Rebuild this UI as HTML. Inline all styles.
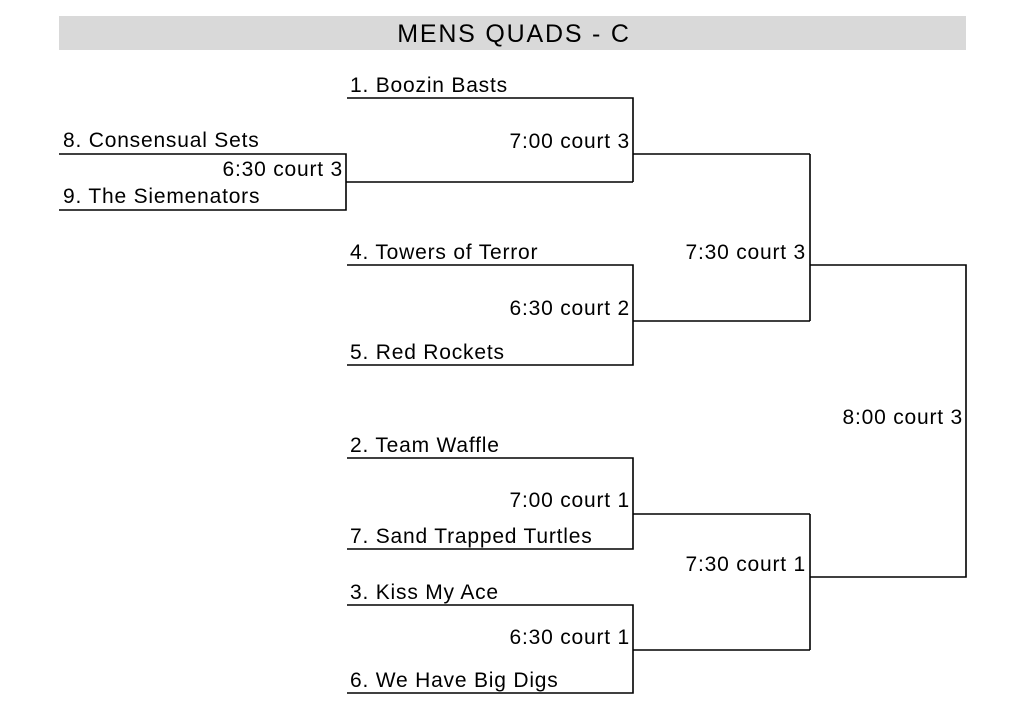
<!DOCTYPE html>
<html><head><meta charset="utf-8"><style>
html,body{margin:0;padding:0;background:#fff;}
svg{display:block}
text{font-family:"Liberation Sans",Arial,sans-serif;font-size:21px;letter-spacing:0.8px;fill:#000}
</style></head><body>
<svg width="1024" height="704" viewBox="0 0 1024 704" xmlns="http://www.w3.org/2000/svg">
<rect x="59" y="16" width="907" height="34" fill="#d9d9d9"/>
<text x="514" y="42" text-anchor="middle" style="font-size:25px;letter-spacing:1.8px">MENS QUADS - C</text>
<g stroke="#000" stroke-width="1.6" fill="none">
<polyline points="59,154 346,154 346,210 59,210"/>
<line x1="346" y1="182" x2="633" y2="182"/>
<polyline points="347,98 633,98 633,182"/>
<line x1="633" y1="154" x2="810" y2="154"/>
<polyline points="347,265 633,265 633,365 347,365"/>
<line x1="633" y1="321" x2="810" y2="321"/>
<line x1="810" y1="154" x2="810" y2="321"/>
<polyline points="810,265 966,265 966,577 810,577"/>
<polyline points="347,458 633,458 633,549 347,549"/>
<line x1="633" y1="514" x2="810" y2="514"/>
<polyline points="347,605 633,605 633,693 347,693"/>
<line x1="633" y1="650" x2="810" y2="650"/>
<line x1="810" y1="514" x2="810" y2="650"/>
</g>
<text x="63" y="147">8. Consensual Sets</text>
<text x="63" y="203">9. The Siemenators</text>
<text x="343" y="176" text-anchor="end">6:30 court 3</text>
<text x="350" y="92">1. Boozin Basts</text>
<text x="630" y="148" text-anchor="end">7:00 court 3</text>
<text x="350" y="259">4. Towers of Terror</text>
<text x="630" y="315" text-anchor="end">6:30 court 2</text>
<text x="350" y="359">5. Red Rockets</text>
<text x="806" y="259" text-anchor="end">7:30 court 3</text>
<text x="963" y="424" text-anchor="end">8:00 court 3</text>
<text x="350" y="452">2. Team Waffle</text>
<text x="630" y="507" text-anchor="end">7:00 court 1</text>
<text x="350" y="543">7. Sand Trapped Turtles</text>
<text x="806" y="571" text-anchor="end">7:30 court 1</text>
<text x="350" y="599">3. Kiss My Ace</text>
<text x="630" y="644" text-anchor="end">6:30 court 1</text>
<text x="350" y="687">6. We Have Big Digs</text>
</svg>
</body></html>
